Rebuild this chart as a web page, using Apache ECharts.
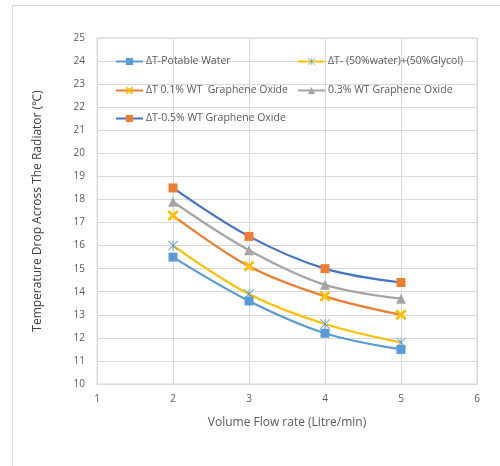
<!DOCTYPE html>
<html>
<head>
<meta charset="utf-8">
<script src="https://cdn.jsdelivr.net/npm/echarts@6/dist/echarts.min.js"></script>
<style>
html,body{margin:0;padding:0;background:#fff}
#main{width:500px;height:466px}
</style>
</head>
<body>
<div id="main"></div>
<script>
// flow rate (Litre/min)
var flowRate = [2, 3, 4, 5];
var potableWater = [15.5, 13.6, 12.2, 11.5];
var waterGlycol = [16.0, 13.9, 12.6, 11.8];
var go01 = [17.3, 15.1, 13.8, 13.0];
var go03 = [17.9, 15.8, 14.3, 13.7];
var go05 = [18.5, 16.4, 15.0, 14.4];
var seriesNames = ['ΔT-Potable Water', 'ΔT- (50%water)+(50%Glycol)', 'ΔT 0.1% WT  Graphene Oxide', '0.3% WT Graphene Oxide', 'ΔT-0.5% WT Graphene Oxide'];

var xMark = 'path://M0,0 L2,0 L5,3 L8,0 L10,0 L10,2 L7,5 L10,8 L10,10 L8,10 L5,7 L2,10 L0,10 L0,8 L3,5 L0,2 Z';
var starMark = 'path://M0,0.6 L0.6,0 L5,4.4 L9.4,0 L10,0.6 L5.6,5 L10,9.4 L9.4,10 L5,5.6 L0.6,10 L0,9.4 L4.4,5 Z M4.6,0 L5.4,0 L5.4,10 L4.6,10 Z';

function pairs(arr) {
	var out = [];
	for (var i = 0; i < flowRate.length; i++) {
		out.push([flowRate[i], arr[i]]);
	}
	return out;
}

function mkSeries(name, data, lineColor, symbol, markColor, size) {
	return {
		name: name,
		type: 'line',
		data: pairs(data),
		smooth: 0.35,
		symbol: symbol,
		symbolSize: size,
		lineStyle: { color: lineColor, width: 2.25 },
		itemStyle: { color: markColor, borderColor: markColor, borderWidth: 0 }
	};
}

var legendText = { color: '#595959', fontSize: 10.5, fontFamily: 'Open Sans', padding: [0, 0, 0, -2] };
function mkLegend(names, left, top) {
	return {
		data: names,
		left: left,
		top: top,
		itemWidth: 27,
		itemHeight: 9,
		itemGap: 8,
		textStyle: legendText
	};
}

var option = {
	animation: false,
	backgroundColor: '#fff',
	graphic: [{
		type: 'rect',
		shape: { x: 12.5, y: 5.5, width: 600, height: 600 },
		style: { fill: 'none', stroke: '#d9d9d9', lineWidth: 1 },
		silent: true
	}],
	legend: [
		mkLegend([seriesNames[0]], 110, 51),
		mkLegend([seriesNames[1]], 292, 51),
		mkLegend([seriesNames[2]], 110, 80),
		mkLegend([seriesNames[3]], 292, 80),
		mkLegend([seriesNames[4]], 110, 108)
	],
	grid: {
		left: 97, right: 23, top: 38, bottom: 82,
		show: true, borderColor: '#d9d9d9', borderWidth: 1
	},
	xAxis: {
		type: 'value',
		min: 1, max: 6, interval: 1,
		name: 'Volume Flow rate (Litre/min)',
		nameLocation: 'middle',
		nameGap: 33,
		nameTextStyle: { color: '#595959', fontSize: 12, fontFamily: 'Open Sans' },
		axisLine: { lineStyle: { color: '#d9d9d9' } },
		axisTick: { show: false },
		axisLabel: { color: '#595959', fontSize: 10, fontFamily: 'Open Sans', margin: 10 },
		splitLine: { show: true, lineStyle: { color: '#d9d9d9' } }
	},
	yAxis: {
		type: 'value',
		min: 10, max: 25, interval: 1,
		name: 'Temperature Drop Across The Radiator (℃)',
		nameLocation: 'middle',
		nameGap: 53,
		nameTextStyle: { color: '#404040', fontSize: 12, fontFamily: 'Open Sans' },
		axisLine: { show: true, lineStyle: { color: '#d9d9d9' } },
		axisTick: { show: false },
		axisLabel: { color: '#595959', fontSize: 10, fontFamily: 'Open Sans', margin: 12 },
		splitLine: { show: true, lineStyle: { color: '#d9d9d9' } }
	},
	series: [
		mkSeries(seriesNames[0], potableWater, '#5b9bd5', 'rect', '#5b9bd5', 9),
		mkSeries(seriesNames[1], waterGlycol, '#ffc000', starMark, '#5b9bd5', 10),
		mkSeries(seriesNames[2], go01, '#ed7d31', xMark, '#ffc000', 10),
		mkSeries(seriesNames[3], go03, '#a5a5a5', 'triangle', '#a5a5a5', 10),
		mkSeries(seriesNames[4], go05, '#4472c4', 'rect', '#ed7d31', 9)
	]
};

var myChart = echarts.init(document.getElementById('main'));
myChart.setOption(option);
</script>
</body>
</html>
